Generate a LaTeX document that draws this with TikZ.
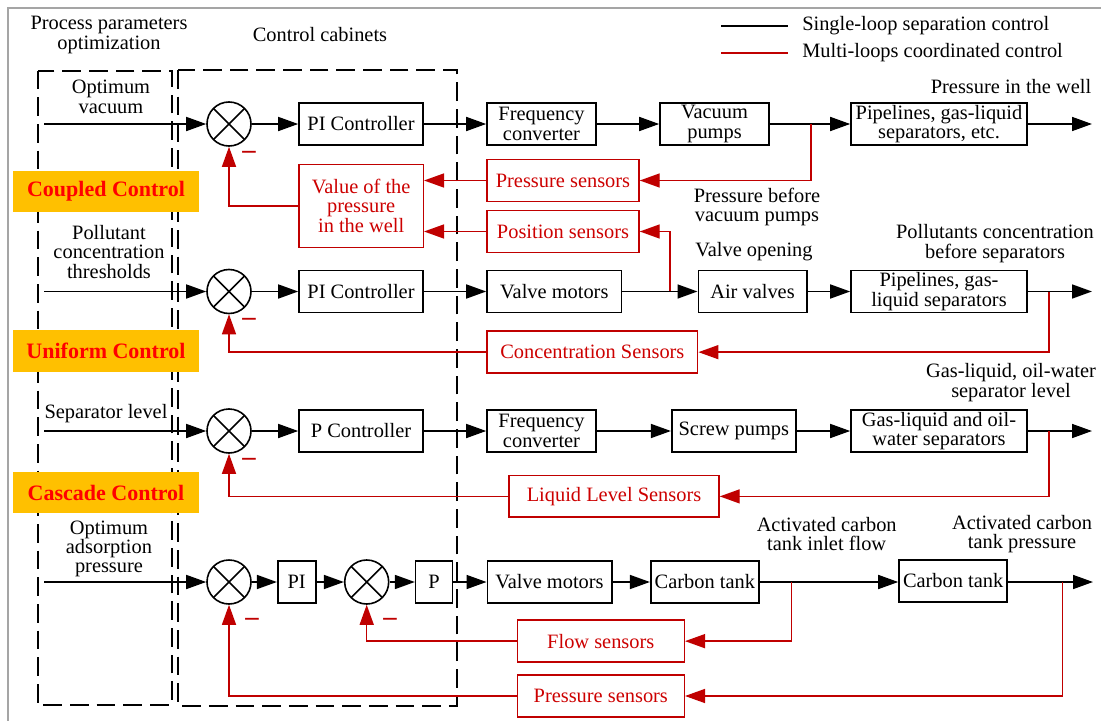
\documentclass[tikz,border=0pt]{standalone}
\usepackage{fontspec}
\setmainfont{Liberation Serif}
\usetikzlibrary{arrows.meta,calc}
\definecolor{dred}{RGB}{192,0,0}
\definecolor{tred}{RGB}{205,0,0}
\definecolor{orng}{RGB}{255,192,0}
\definecolor{framegray}{RGB}{165,165,165}
\begin{document}
\begin{tikzpicture}[x=0.75pt, y=-0.75pt,
  font=\fontsize{15.3pt}{14.5pt}\selectfont,
  box/.style={draw, line width=1.2pt, inner sep=0pt, align=center, minimum height=31.5pt},
  rbox/.style={draw=dred, text=tred, line width=1.1pt, inner sep=0pt, align=center, minimum height=31.5pt},
  sumnode/.style={circle, draw, line width=1.2pt, minimum size=33pt, inner sep=0pt,
    path picture={\draw[line width=1.2pt] (path picture bounding box.north west)--(path picture bounding box.south east)
      (path picture bounding box.north east)--(path picture bounding box.south west);}},
  flow/.style={line width=1.2pt, -{Triangle[length=15pt,width=10.5pt]}},
  fb/.style={dred, line width=1.1pt, -{Triangle[length=15pt,width=10.5pt]}},
  lbl/.style={align=center, inner sep=0pt},
  ctrl/.style={fill=orng, text=red, font=\fontsize{16.5pt}{18pt}\selectfont\bfseries, inner sep=0pt,
    minimum width=140pt, minimum height=31pt},
  minusnode/.style={text=dred, font=\fontsize{20pt}{20pt}\selectfont\bfseries, inner sep=0pt},
  dbox/.style={line width=1.3pt, dash pattern=on 14pt off 6pt},
  legline/.style={line width=2.2pt}]
\useasboundingbox (0,0) rectangle (1101,721);
\fill[white] (0,0) rectangle (1101,721);
\draw[framegray, line width=1pt] (8,721) -- (8,8) -- (1101,8);

% headings
\node[lbl] (hpp) at (109,35) {Process parameters\\optimization};
\node[lbl] (hcc) at (320,35) {Control cabinets};

% legend
\coordinate (la1) at (721,26); \coordinate (lb1) at (788,26);
\coordinate (la2) at (721,53); \coordinate (lb2) at (788,53);
\draw[legline] (la1) -- (lb1);
\draw[legline, dred] (la2) -- (lb2);
\node[lbl, anchor=west] (lt1) at (802,26) {Single-loop separation control};
\node[lbl, anchor=west] (lt2) at (802,53) {Multi-loops coordinated control};

% dashed groups
\draw[dbox] (37.7,70.7) rectangle (171.7,705);
\draw[dbox] (178.3,70) rectangle (457.3,706);

% control type labels
\node[ctrl] (cc) at (106,191.5) {Coupled Control};
\node[ctrl] (uc) at (106,350.9) {Uniform Control};
\node[ctrl] (kc) at (106,492.5) {Cascade Control};

% input labels
\node[lbl] (l1) at (111,97) {Optimum\\vacuum};
\node[lbl] (l2) at (109,252) {Pollutant\\concentration\\thresholds};
\node[lbl] (l3) at (106,414) {Separator level};
\node[lbl] (l4) at (109,549) {Optimum\\adsorption\\pressure};

% ---------- row 1 ----------
\coordinate (i1) at (44,124);
\node[sumnode] (c1) at (229,124) {};
\node[box, minimum width=93pt] (pi1) at (361,124) {PI Controller};
\node[box, minimum width=81.75pt] (fc1) at (541.5,124) {Frequency\\converter};
\node[box, minimum width=81.75pt] (vp) at (714.5,124) {Vacuum\\pumps};
\node[box, minimum width=132pt] (pl1) at (939,124) {Pipelines, gas-liquid\\separators, etc.};
\coordinate (o1) at (1092,124);
\draw[flow] (i1) -- (c1);
\draw[flow] (c1) -- (pi1);
\draw[flow] (pi1) -- (fc1);
\draw[flow] (fc1) -- (vp);
\draw[flow] (vp) -- (pl1);
\draw[flow] (pl1) -- (o1);
\node[lbl] (pw) at (1011,87) {Pressure in the well};

\node[rbox, minimum width=114pt] (ps1) at (563,180.5) {Pressure sensors};
\node[rbox, minimum width=114pt] (pos) at (563,231.5) {Position sensors};
\node[rbox, minimum width=93.2pt, minimum height=62.25pt] (val) at (361.15,205.8) {Value of the\\pressure\\in the well};
\node[lbl] (pbv) at (757,207) {Pressure before\\vacuum pumps};
\coordinate (t1) at (811,124);
\draw[fb] (t1) |- (ps1.east);
\draw[fb] (ps1.west) -- (ps1.west -| val.east);
\coordinate (t2) at (670,291.5);
\draw[fb] (t2) |- (pos.east);
\draw[fb] (pos.west) -- (pos.west -| val.east);
\draw[fb] (val.west) -| (c1.south);
\node[minusnode] (m1) at (249,155) {–};

% ---------- row 2 ----------
\coordinate (i2) at (44,291.5);
\node[sumnode] (c2) at (229,291.5) {};
\node[box, minimum width=93pt] (pi2) at (361,291.5) {PI Controller};
\node[box, minimum width=101pt] (vm2) at (554.35,291.5) {Valve motors};
\node[box, minimum width=81.3pt] (av) at (752.5,291.5) {Air valves};
\node[box, minimum width=132pt] (pl2) at (939,291.5) {Pipelines, gas-\\liquid separators};
\coordinate (o2) at (1092,291.5);
\draw[flow] (i2) -- (c2);
\draw[flow] (c2) -- (pi2);
\draw[flow] (pi2) -- (vm2);
\draw[flow] (vm2) -- (av);
\draw[flow] (av) -- (pl2);
\draw[flow] (pl2) -- (o2);
\node[lbl] (vo) at (754,252) {Valve opening};
\node[lbl] (pcb) at (995,243.5) {Pollutants concentration\\before separators};

\node[rbox, minimum width=158pt] (cs) at (592.35,352.15) {Concentration Sensors};
\coordinate (t3) at (1049,291.5);
\draw[fb] (t3) |- (cs.east);
\draw[fb] (cs.west) -| (c2.south);
\node[minusnode] (m2) at (249,321.7) {–};

% ---------- row 3 ----------
\coordinate (i3) at (44,431);
\node[sumnode] (c3) at (229,431) {};
\node[box, minimum width=93pt] (pc3) at (361,431) {P Controller};
\node[box, minimum width=81.75pt] (fc3) at (541.5,431) {Frequency\\converter};
\node[box, minimum width=93.2pt] (sp) at (733.85,431) {Screw pumps};
\node[box, minimum width=132pt] (gl) at (939,431) {Gas-liquid and oil-\\water separators};
\coordinate (o3) at (1092,431);
\draw[flow] (i3) -- (c3);
\draw[flow] (c3) -- (pc3);
\draw[flow] (pc3) -- (fc3);
\draw[flow] (fc3) -- (sp);
\draw[flow] (sp) -- (gl);
\draw[flow] (gl) -- (o3);
\node[lbl] (gll) at (1011,382.5) {Gas-liquid, oil-water\\separator level};

\node[rbox, minimum width=157.5pt, minimum height=31pt] (lls) at (614,496.4) {Liquid Level Sensors};
\coordinate (t4) at (1049,431);
\draw[fb] (t4) |- (lls.east);
\draw[fb] (lls.west) -| (c3.south);
\node[minusnode] (m3) at (249,461.7) {–};

% ---------- row 4 ----------
\coordinate (i4) at (44,582);
\node[sumnode] (c4) at (229,582) {};
\node[box, minimum width=28.5pt] (pis) at (296.7,582) {PI};
\node[sumnode] (c5) at (366.7,582) {};
\node[box, minimum width=27.5pt] (pss) at (434,582) {P};
\node[box, minimum width=93.3pt] (vm4) at (549.5,582) {Valve motors};
\node[box, minimum width=81.2pt] (ct1) at (704.85,582) {Carbon tank};
\node[box, minimum width=81.2pt] (ct2) at (953.15,581) {Carbon tank};
\coordinate (o4) at (1093,582);
\draw[flow] (i4) -- (c4);
\draw[flow] (c4) -- (pis);
\draw[flow] (pis) -- (c5);
\draw[flow] (c5) -- (pss);
\draw[flow] (pss) -- (vm4);
\draw[flow] (vm4) -- (ct1);
\draw[flow] (ct1.east) -- (ct1.east -| ct2.west);
\draw[flow] (ct1.east -| ct2.east) -- (o4);
\node[lbl] (acf) at (826.7,534) {Activated carbon\\tank inlet flow};
\node[lbl] (acp) at (1022,534) {Activated carbon\\tank pressure};

\node[rbox, minimum width=125.25pt] (fs) at (600.8,641.15) {Flow sensors};
\node[rbox, minimum width=125.25pt] (ps4) at (600.8,696) {Pressure sensors};
\coordinate (t5) at (791.7,582);
\draw[fb] (t5) |- (fs.east);
\draw[fb] (fs.west) -| (c5.south);
\coordinate (t6) at (1062.7,582);
\draw[fb] (t6) |- (ps4.east);
\draw[fb] (ps4.west) -| (c4.south);
\node[minusnode] (m4) at (252,622.3) {–};
\node[minusnode] (m5) at (390,622.3) {–};
\end{tikzpicture}
\end{document}
